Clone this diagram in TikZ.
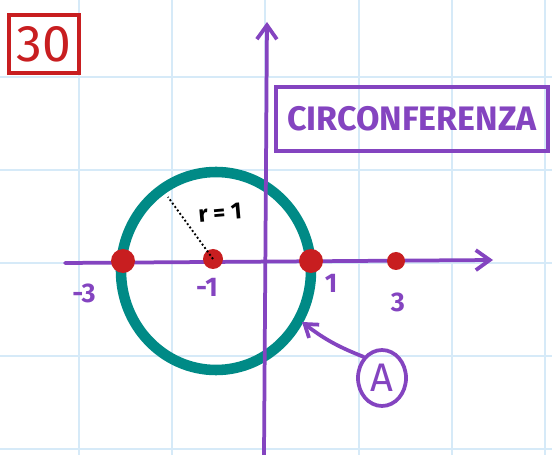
\documentclass[tikz,border=0pt]{standalone}
\usepackage{fontspec}
\setmainfont{Fira Sans}
\usetikzlibrary{arrows.meta,positioning,calc,shapes.geometric}
\definecolor{gridblue}{RGB}{214,234,248}
\definecolor{axispurple}{RGB}{132,68,192}
\definecolor{dotred}{RGB}{200,30,32}
\definecolor{circteal}{RGB}{0,138,134}

\begin{document}
\begin{tikzpicture}[
    x=0.03cm, y=-0.03cm,
    gridline/.style={gridblue, line width=2.2pt},
    axis/.style={axispurple, line width=3.2pt, line cap=round,
        -{Straight Barb[length=0.42cm, width=0.6cm, line width=3.2pt]}},
    dot/.style={circle, fill=dotred, inner sep=0pt, minimum size=#1},
    lbl/.style={text=axispurple, font=\fontsize{23}{23}\selectfont\bfseries},
    arrow/.style={axispurple, line width=3.2pt, line cap=round,
        -{Straight Barb[length=0.36cm, width=0.5cm, line width=3.2pt]}}
]
\useasboundingbox (0,0) rectangle (552,455);
\fill[white] (0,0) rectangle (552,455);

% quaderno
\foreach \gx in {79,172,265,359,452,545}
    \draw[gridline] (\gx,0) -- (\gx,455);
\foreach \gy in {77,170,263,356,449}
    \draw[gridline] (0,\gy) -- (552,\gy);

% numero esercizio e titolo
\node[draw=dotred, line width=3.2pt, text=dotred, minimum width=2.1cm, minimum height=1.74cm,
      font=\fontsize{44}{44}\selectfont] (num) at (44,44) {30};
\node[draw=axispurple, line width=3.2pt, text=axispurple, minimum width=8.16cm, minimum height=1.92cm,
      font=\fontsize{29}{29}\selectfont\bfseries] (title) at (412,119) {CIRCONFERENZA};

% circonferenza
\coordinate (c) at (216,271);
\draw[circteal, line width=9pt] (c) ellipse [x radius=95, y radius=99];

% assi
\coordinate (xs) at (65,263);
\coordinate (xe) at (493,260);
\coordinate (ys) at (264,455);
\coordinate (ye) at (267,22);
\draw[axis] (xs) -- (xe);
\draw[axis] (ys) -- (ye);

% punti
\node[dot=0.72cm] (pL) at (123,261) {};
\node[dot=0.6cm] (pC) at (213,259) {};
\node[dot=0.72cm] (pR) at (311,261) {};
\node[dot=0.54cm] (pF) at (396,261) {};

\node[lbl] (lm3) at (84,293) {-3};
\node[lbl] (lm1) at (207,287) {-1};
\node[lbl] (l1) at (331,283) {1};
\node[lbl] (l3) at (398,302) {3};

% raggio
\coordinate (rad) at (168,197);
\draw[black, line width=1.6pt, dotted] (pC.center) -- (rad);
\node[font=\fontsize{20}{20}\selectfont\bfseries, rotate=5] (r) at (220,213) {r = 1};

% punto A
\node[ellipse, draw=axispurple, line width=3.2pt, text=axispurple, minimum width=1.44cm,
      minimum height=1.68cm, inner sep=0pt, font=\fontsize{34}{34}\selectfont] (A) at (382,378) {A};
\coordinate (tipA) at (302,322);
\draw[arrow] (A.north west) to[bend left=8] (tipA);
\end{tikzpicture}
\end{document}
